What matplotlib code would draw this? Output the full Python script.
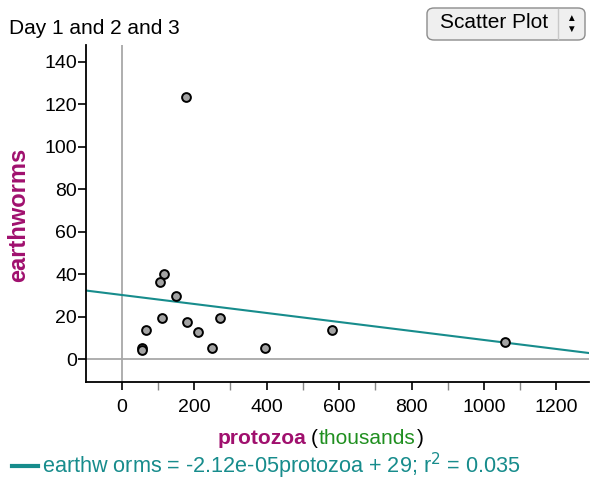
import matplotlib
matplotlib.use("Agg")
import matplotlib.pyplot as plt
from matplotlib.patches import FancyBboxPatch
from matplotlib.ticker import MultipleLocator
import numpy as np

plt.rcParams['font.family'] = ['Liberation Sans', 'DejaVu Sans']

# data (protozoa in thousands)
protozoa = [177, 117, 106, 150, 112, 68, 181, 209, 270, 56, 56, 248, 395, 580, 1059]
earthworms = [123.4, 39.9, 36.2, 29.6, 19.3, 13.7, 17.6, 12.7, 19.3, 5.3, 4.2, 5.3, 5.3, 13.7, 8.0]
fit_slope = -0.0212   # per thousand
fit_intercept = 30.2
eq_text = "earthw orms = -2.12e-05protozoa + 29; r$^2$ = 0.035"

teal = "#178c8c"
purple = "#a0106e"
green = "#1f8f1f"

fig = plt.figure(figsize=(5.9, 4.83), dpi=100)
ax = fig.add_axes([86/590, 1 - 382/483, 503/590, (382 - 45)/483])

ax.set_xlim(-99, 1290)
ax.set_ylim(-10.8, 148)

ax.axvline(0, color="#a8a8a8", lw=1.3, zorder=1)
ax.axhline(0, color="#a8a8a8", lw=1.3, zorder=1)

xs = np.array(ax.get_xlim())
ax.plot(xs, fit_intercept + fit_slope * xs, color=teal, lw=1.5, zorder=2)

ax.scatter(protozoa, earthworms, s=40, facecolor="#a3a3a3", edgecolor="black",
           linewidth=1.4, zorder=3)

for s in ("top", "right"):
    ax.spines[s].set_visible(False)
ax.spines["left"].set_linewidth(1.3)
ax.spines["bottom"].set_linewidth(1.3)

ax.xaxis.set_minor_locator(MultipleLocator(100))
ax.set_xticks(np.arange(0, 1201, 200))
ax.set_yticks(np.arange(0, 141, 20))
ax.tick_params(axis="x", which="major", length=6, width=1.2, labelsize=14, pad=6)
ax.tick_params(axis="x", which="minor", length=6, width=1.0, color="#888888")
ax.tick_params(axis="y", length=6, width=1.2, labelsize=14, pad=0.5)

# x label in pieces, placed one after the other
renderer = fig.canvas.get_renderer()
ylab = 1 - 438/483
x_px = 218
pieces = [("protozoa", purple, "bold", 4), ("(", "black", "normal", 1),
          ("thousands", green, "normal", 1), (")", "black", "normal", 0)]
for txt, col, wt, gap in pieces:
    t = fig.text(x_px/590, ylab, txt, fontsize=15, fontweight=wt, color=col,
                 ha="left", va="center")
    x_px += t.get_window_extent(renderer).width + gap

fig.text(19/590, 1 - 215/483, "earthworms", fontsize=17, fontweight="bold",
         color=purple, rotation=90, ha="center", va="center")

# title
fig.text(9/590, 1 - 29/483, "Day 1 and 2 and 3", fontsize=15, ha="left", va="center")

# legend / equation
fig.add_artist(plt.Line2D([12/590, 38/590], [1 - 466/483, 1 - 466/483],
                          color=teal, lw=3, transform=fig.transFigure))
fig.text(42/590, 1 - 466/483, eq_text, fontsize=15.6, color=teal, ha="left", va="center")

# "Scatter Plot" selector
box = FancyBboxPatch((427/590, 1 - 40/483), 158/590, 32/483,
                     boxstyle="round,pad=0,rounding_size=0.012",
                     transform=fig.transFigure, facecolor="#efefef",
                     edgecolor="#8c8c8c", lw=1)
fig.add_artist(box)
fig.add_artist(plt.Line2D([558/590, 558/590], [1 - 39/483, 1 - 9/483],
                          color="#c8c8c8", lw=1, transform=fig.transFigure))
fig.text(494/590, 1 - 23/483, "Scatter Plot", fontsize=15, ha="center", va="center")
fig.text(571/590, 1 - 18/483, "\u25b2", fontsize=7, ha="center", va="center")
fig.text(571/590, 1 - 29/483, "\u25bc", fontsize=7, ha="center", va="center")

fig.savefig("out.png", dpi=100)
